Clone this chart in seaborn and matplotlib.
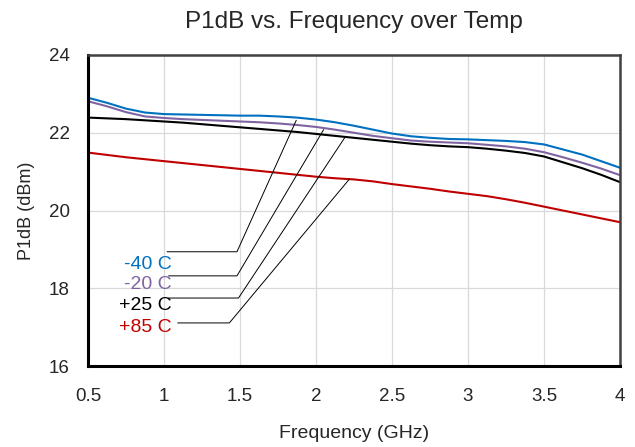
import pandas as pd
import matplotlib
matplotlib.use("Agg")
import matplotlib.pyplot as plt
import seaborn as sns

# frequência (GHz) e P1dB (dBm)
freq = [0.5, 0.625, 0.75, 0.875, 1.0, 1.125, 1.25, 1.375, 1.5, 1.625, 1.75, 1.875, 2.0, 2.125, 2.25,
        2.375, 2.5, 2.625, 2.75, 2.875, 3.0, 3.125, 3.25, 3.375, 3.5, 3.625, 3.75, 3.875, 4.0]
p1db_m40 = [22.90, 22.77, 22.62, 22.52, 22.48, 22.47, 22.46, 22.45, 22.44, 22.44, 22.42, 22.39, 22.34, 22.27, 22.18,
            22.08, 21.98, 21.91, 21.87, 21.84, 21.83, 21.81, 21.79, 21.76, 21.70, 21.57, 21.44, 21.27, 21.10]
p1db_m20 = [22.81, 22.68, 22.53, 22.42, 22.38, 22.35, 22.33, 22.31, 22.29, 22.27, 22.24, 22.20, 22.15, 22.08, 22.00,
            21.92, 21.86, 21.80, 21.77, 21.75, 21.73, 21.69, 21.65, 21.59, 21.50, 21.37, 21.23, 21.08, 20.91]
p1db_p25 = [22.39, 22.37, 22.35, 22.32, 22.29, 22.26, 22.22, 22.18, 22.14, 22.10, 22.06, 22.02, 21.97, 21.92, 21.87,
            21.82, 21.77, 21.72, 21.68, 21.65, 21.63, 21.59, 21.54, 21.48, 21.39, 21.24, 21.09, 20.92, 20.73]
p1db_p85 = [21.49, 21.43, 21.37, 21.32, 21.27, 21.22, 21.17, 21.12, 21.07, 21.02, 20.97, 20.92, 20.87, 20.83, 20.80,
            20.75, 20.68, 20.62, 20.56, 20.49, 20.43, 20.37, 20.29, 20.20, 20.10, 20.00, 19.90, 19.80, 19.70]

temps = ["-40 C", "-20 C", "+25 C", "+85 C"]
cores = ["#0070C0", "#8064A2", "#000000", "#C00000"]
xticks = [0.5, 1, 1.5, 2, 2.5, 3, 3.5, 4]
yticks = [16, 18, 20, 22, 24]

df = pd.DataFrame({
    "freq": freq * 4,
    "p1db": p1db_m40 + p1db_m20 + p1db_p25 + p1db_p85,
    "temp": [t for t in temps for _ in freq],
})

sns.set_style("white")
plt.rcParams["font.family"] = ["Liberation Sans", "DejaVu Sans"]

fig = plt.figure(figsize=(6.35, 4.47), dpi=100)
ax = fig.add_axes([0.1386, 0.181, 0.8378, 0.696])

sns.lineplot(data=df, x="freq", y="p1db", hue="temp", hue_order=temps,
             palette=cores, linewidth=1.5, legend=False, ax=ax)

ax.set_xlim(0.5, 4)
ax.set_ylim(16, 24)
ax.set_xticks(xticks)
ax.set_xticklabels([f"{v:g}" for v in xticks])
ax.set_yticks(yticks)
ax.tick_params(axis="x", length=0, labelsize=13.5, pad=16)
ax.tick_params(axis="y", length=0, labelsize=13.5, pad=13)
ax.grid(True, color="#D9D9D9", linewidth=0.9)

for lado in ["left", "bottom"]:
    ax.spines[lado].set_color("black")
    ax.spines[lado].set_linewidth(2.2)
for lado in ["top", "right"]:
    ax.spines[lado].set_color("#404040")
    ax.spines[lado].set_linewidth(1.8)

ax.set_xlabel("Frequency (GHz)", fontsize=14, labelpad=14)
ax.set_ylabel("P1dB (dBm)", fontsize=13, labelpad=10)
# título centrado sobre a área do gráfico
fig.text(0.5575, 0.951, "P1dB vs. Frequency over Temp", fontsize=17.5, ha="center", va="center")

# rótulos com linhas de chamada
texto_y = [18.6, 18.09, 17.55, 17.0]
linha_y = [18.94, 18.32, 17.75, 17.11]
linha_x0 = [1.02, 1.03, 1.03, 1.09]
linha_x1 = [1.48, 1.48, 1.49, 1.43]
alvo = [(1.87, 22.32), (2.05, 22.08), (2.19, 21.88), (2.22, 20.81)]
for i, t in enumerate(temps):
    ax.text(1.05, texto_y[i], t, color=cores[i], fontsize=14, ha="right", va="center")
    ax.plot([linha_x0[i], linha_x1[i], alvo[i][0]], [linha_y[i], linha_y[i], alvo[i][1]],
            color="black", linewidth=0.7)

plt.savefig("out.png", dpi=100)
